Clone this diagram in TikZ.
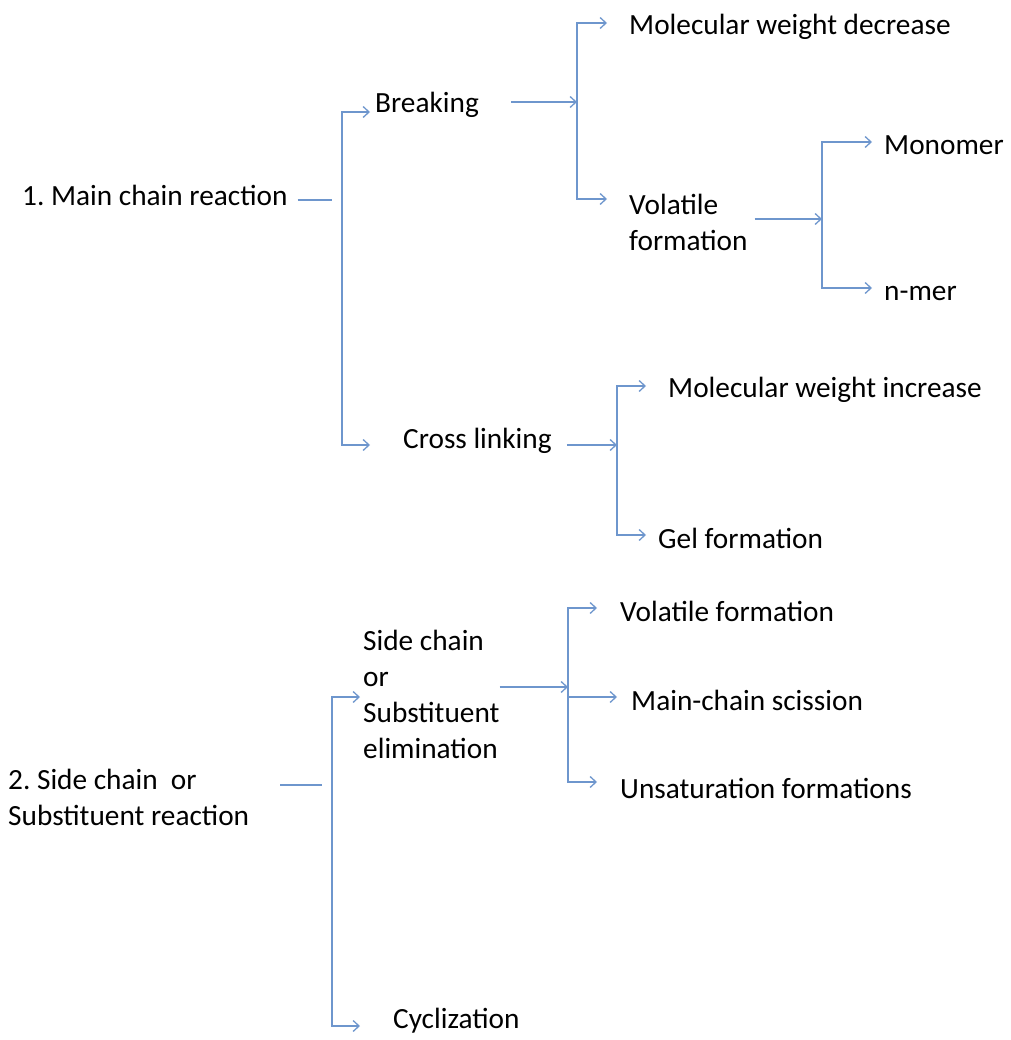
\documentclass[tikz,border=0pt]{standalone}
\usepackage{fontspec}
\setmainfont{Carlito}
\usetikzlibrary{arrows.meta}
\definecolor{linkblue}{RGB}{110,150,205}
\frenchspacing

\begin{document}
\begin{tikzpicture}[x=1pt, y=-1pt, >={Straight Barb[length=6pt,width=11pt]},
    every node/.style={anchor=west, inner sep=0pt, align=left,
        font=\fontsize{29.3}{36}\selectfont},
    link/.style={draw=linkblue, line width=1.3pt}]
    \useasboundingbox (0,0) rectangle (1010,1040);

    % 1. Main chain branch
    \node (main1) at (22,195) {1. Main chain reaction};
    \node (brk) at (375,105) {Breaking};
    \node (cross) at (403,441) {Cross linking};
    \node (mwd) at (629,27) {Molecular weight decrease};
    \node (vol) at (629,222) {Volatile\\formation};
    \node (mono) at (884,145) {Monomer};
    \node (nmer) at (884,293) {n-mer};
    \node (mwi) at (668,390) {Molecular weight increase};
    \node (gel) at (658,538) {Gel formation};

    % 2. Side chain branch
    \node (main2) at (8,797) {2. Side chain\ \ or\\Substituent reaction};
    \node (side) at (363,694) {Side chain\\or\\Substituent\\elimination};
    \node (vf2) at (620,611) {Volatile formation};
    \node (mcs) at (631,700) {Main-chain scission};
    \node (unsat) at (620,788) {Unsaturation formations};
    \node (cyc) at (393,1021) {Cyclization};

    % Bracket joints
    \coordinate (j1) at (342,200);
    \coordinate (j2) at (577,102);
    \coordinate (j3) at (822,219);
    \coordinate (j4) at (617,445);
    \coordinate (j5) at (332,785);
    \coordinate (j6) at (568,687);

    % Connectors, first part
    \draw[link, shorten <=10pt, shorten >=10pt] (main1.east |- j1) -- (j1);
    \draw[link, ->, shorten >=5pt] (j1) |- ([yshift=-7pt]brk.west);
    \draw[link, ->, shorten >=33pt] (j1) |- ([yshift=-4pt]cross.west);

    \draw[link, ->, shorten <=32pt] (brk.east |- j2) -- (j2);
    \draw[link, ->, shorten >=22pt] (j2) |- ([yshift=4pt]mwd.west);
    \draw[link, ->, shorten >=22pt] (j2) |- ([yshift=23pt]vol.west);

    \draw[link, ->, shorten <=7pt] (vol.east |- j3) -- (j3);
    \draw[link, ->, shorten >=12pt] (j3) |- ([yshift=3pt]mono.west);
    \draw[link, ->, shorten >=12pt] (j3) |- ([yshift=5pt]nmer.west);

    \draw[link, ->, shorten <=15pt] (cross.east |- j4) -- (j4);
    \draw[link, ->, shorten >=22pt] (j4) |- ([yshift=4pt]mwi.west);
    \draw[link, ->, shorten >=12pt] (j4) |- ([yshift=3pt]gel.west);

    % Connectors, second part
    \draw[link, shorten <=31pt, shorten >=10pt] (main2.east |- j5) -- (j5);
    \draw[link, ->, shorten >=3pt] (j5) |- ([yshift=-3pt]side.west);
    \draw[link, ->, shorten >=33pt] (j5) |- ([yshift=-5pt]cyc.west);

    \draw[link, ->] (side.east |- j6) -- (j6);
    \draw[link, ->, shorten >=23pt] (j6) |- ([yshift=3pt]vf2.west);
    \draw[link, ->, shorten >=14pt] (j6) |- ([yshift=3pt]mcs.west);
    \draw[link, ->, shorten >=23pt] (j6) |- ([yshift=6pt]unsat.west);
\end{tikzpicture}
\end{document}
